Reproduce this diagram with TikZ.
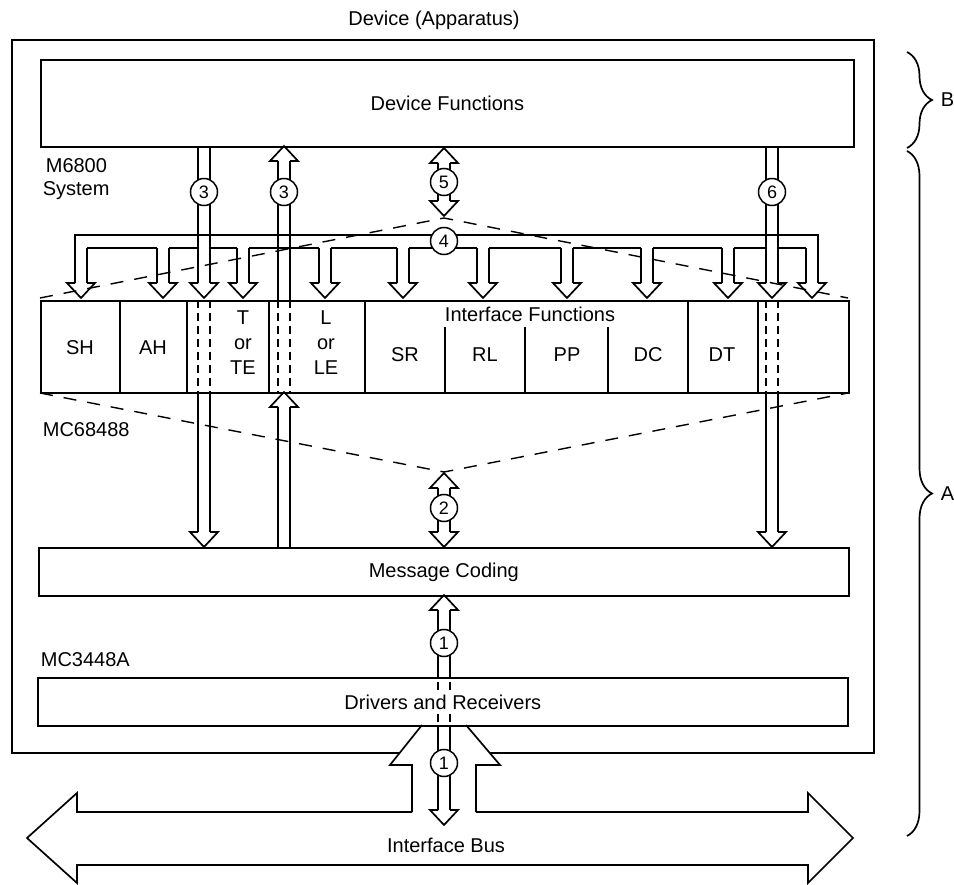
\documentclass[tikz,border=0pt]{standalone}
\usepackage{fontspec}
\setmainfont{Liberation Sans}
\usetikzlibrary{decorations.pathreplacing,calc}
\newcommand\ShaftPair[3]{\draw ({#1-6},#2) -- ({#1-6},#3) ({#1+6},#2) -- ({#1+6},#3);}
\newcommand\HeadDown[2]{\draw ({#1-6},{#2-15}) -- ({#1-14},{#2-15}) -- (#1,#2) -- ({#1+14},{#2-15}) -- ({#1+6},{#2-15});}
\newcommand\HeadUp[2]{\draw ({#1-6},{#2+15}) -- ({#1-14},{#2+15}) -- (#1,#2) -- ({#1+14},{#2+15}) -- ({#1+6},{#2+15});}
\begin{document}
\begin{tikzpicture}[x=1pt,y=-1pt,line width=1.7pt,
  txt/.style={font=\fontsize{20}{25}\selectfont, inner sep=0pt, align=center},
  lab/.style={txt, anchor=west},
  box/.style={draw, anchor=north west, inner sep=0pt, font=\fontsize{20}{25}\selectfont},
  num/.style={draw, circle, fill=white, minimum size=27pt, inner sep=0pt, line width=1.5pt, font=\fontsize{18}{20}\selectfont},
  fan/.style={dash pattern=on 13pt off 11pt, line width=1.4pt},
  celldash/.style={dash pattern=on 8pt off 5pt, line width=1.3pt},
  brc/.style={decorate, decoration={brace, amplitude=25pt}, line width=1.7pt}]
\useasboundingbox (0,0) rectangle (954,885);

% title
\node[txt] (title) at (434,20) {Device (Apparatus)};

% outer device box (open where the bus link passes)
\draw[line width=2.4pt] (399.6,753) -- (12,753) -- (12,40) -- (874,40) -- (874,753) -- (489.8,753);

% main boxes
\node[box, minimum width=813pt, minimum height=87pt] (df) at (40,59) {Device Functions};
\node[box, minimum width=810pt, minimum height=48pt] (mc) at (38,547) {Message Coding};
\node[box, minimum width=810pt, minimum height=48pt] (dr) at (37,677) {Drivers and Receivers};

% interface functions row
\node[box, minimum width=808pt, minimum height=92pt] (ifr) at (40,300) {};
\foreach \x in {120,187,269,365,688,758} \draw (\x,300) -- (\x,392);
\foreach \x in {445,525,608} \draw (\x,327) -- (\x,392);
\node[txt] (iftitle) at (530,314) {Interface Functions};
\node[txt] (sh) at (80,348) {SH};
\node[txt] (ah) at (153,348) {AH};
\node[txt] (t) at (243,343) {T\\or\\TE};
\node[txt] (l) at (326,343) {L\\or\\LE};
\node[txt] (sr) at (405,355) {SR};
\node[txt] (rl) at (485,355) {RL};
\node[txt] (pp) at (567,355) {PP};
\node[txt] (dc) at (648,355) {DC};
\node[txt] (dt) at (722,355) {DT};

% side labels
\node[lab] (m6800) at (45,166) {M6800};
\node[lab] (system) at (42,191) {System};
\node[lab] (mc68488) at (42,430) {MC68488};
\node[lab] (mc3448a) at (40,660) {MC3448A};

% dashed fans
\coordinate (apexT) at (444,218);
\coordinate (apexB) at (444,472);
\draw[fan] (40,298) -- (apexT) -- (848,298);
\draw[fan] (40,393) -- (apexB) -- (848,393);

% bus 4 (comb arrow)
\draw (75,248) -- (75,235) -- (818,235) -- (818,248);
\foreach \c in {81,163,204,243,325,403,483,567,647,728,772,812} {\ShaftPair{\c}{248}{283} \HeadDown{\c}{298}}
\foreach \a/\b in {87/157,169/198,210/237,249/319,331/397,409/477,489/561,573/641,653/722,734/766,778/806} \draw (\a,248) -- (\b,248);

% arrow 3 (left, down)
\ShaftPair{204}{146}{248}
\draw[celldash] (198,300) -- (198,392) (210,300) -- (210,392);
\ShaftPair{204}{392}{532}
\HeadDown{204}{547}

% arrow 3 (right, up)
\HeadUp{284}{146}
\ShaftPair{284}{161}{300}
\draw[celldash] (278,300) -- (278,392) (290,300) -- (290,392);
\HeadUp{284}{392}
\ShaftPair{284}{407}{547}

% arrow 6
\ShaftPair{772}{146}{248}
\draw[celldash] (766,300) -- (766,392) (778,300) -- (778,392);
\ShaftPair{772}{392}{532}
\HeadDown{772}{547}

% arrow 5
\HeadUp{444}{148}
\ShaftPair{444}{163}{201}
\HeadDown{444}{216}

% arrow 2
\HeadUp{444}{473}
\ShaftPair{444}{488}{532}
\HeadDown{444}{547}

% arrow 1 (upper)
\HeadUp{444}{595}
\ShaftPair{444}{610}{677}
\draw[line width=1.3pt] (438,682) -- (438,690) (450,682) -- (450,690)
  (438,714) -- (438,722) (450,714) -- (450,722);

% arrow 1 (lower)
\ShaftPair{444}{725}{810}
\HeadDown{444}{825}

% bus link arrow and interface bus
\draw (422,725) -- (390,765) -- (412,765) -- (412,812);
\draw (466,725) -- (500,765) -- (476,765) -- (476,812);
\draw (412,812) -- (77,812) -- (77,793) -- (27,838) -- (77,883) -- (77,865) -- (808,865) -- (808,883) -- (853,838) -- (808,793) -- (808,812) -- (476,812);
\node[txt] (ibus) at (446,845) {Interface Bus};

% numbered circles
\node[num] (c3a) at (204,192) {3};
\node[num] (c3b) at (284,192) {3};
\node[num] (c5) at (444,182) {5};
\node[num] (c6) at (772,192) {6};
\node[num] (c4) at (444,241) {4};
\node[num] (c2) at (444,508) {2};
\node[num] (c1a) at (444,643) {1};
\node[num] (c1b) at (444,763) {1};

% braces
\draw[brc] (907,52) -- (907,148);
\node[lab] (lb) at (940,100) {B};
\draw[brc] (907,151) -- (907,836);
\node[lab] (la) at (940,494) {A};
\end{tikzpicture}
\end{document}
